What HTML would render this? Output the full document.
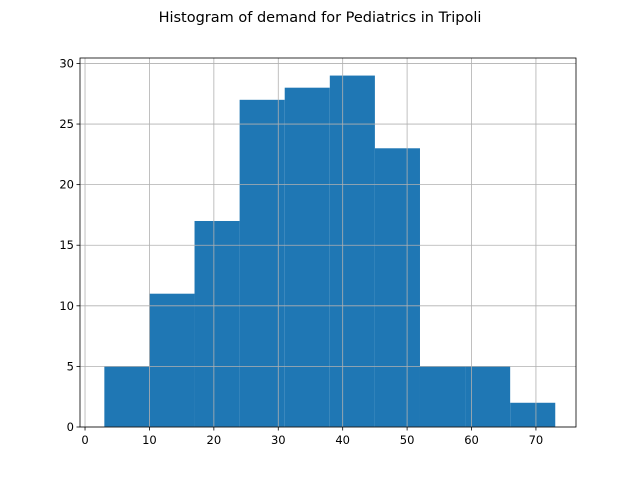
<!DOCTYPE html>
<html><head><meta charset="utf-8"><style>body{margin:0;background:#fff}svg{display:block}text{font-family:"DejaVu Sans","Liberation Sans",sans-serif}</style></head>
<body>
<svg id="c" width="640" height="480">
<text x="320" y="22" text-anchor="middle" font-size="14.5">Histogram of demand for Pediatrics in Tripoli</text>
</svg>
<script>
const binEdges=[3,10,17,24,31,38,45,52,59,66,73];
const counts=[5,11,17,27,28,29,23,5,5,2];
const xTicks=[0,10,20,30,40,50,60,70];
const yTicks=[0,5,10,15,20,25,30];
const L=80,R=576,T=58,B=427;
const xmin=-0.78,xmax=76.22,ymin=0,ymax=30.45;
const sx=v=>L+(v-xmin)/(xmax-xmin)*(R-L);
const sy=v=>B-(v-ymin)/(ymax-ymin)*(B-T);
const svg=document.getElementById('c');const NS='http://www.w3.org/2000/svg';
function mk(t,a,p){const e=document.createElementNS(NS,t);for(const k in a)e.setAttribute(k,a[k]);(p||svg).appendChild(e);return e;}
const bars=mk('g',{});


counts.forEach((c,i)=>{const x0=sx(binEdges[i]),x1=sx(binEdges[i+1]);
const r=mk('rect',{x:x0,y:sy(c),width:x1-x0,height:sy(0)-sy(c),fill:'#1f77b4'},bars);

});
const grid=mk('g',{stroke:'#b0b0b0','stroke-width':0.8});


const ax=mk('g',{});


xTicks.forEach(t=>{const x=sx(t);mk('line',{x1:x,x2:x,y1:T,y2:B},grid);
mk('line',{x1:x,x2:x,y1:B,y2:B+3.5,stroke:'#000','stroke-width':0.8},ax);
const tx=mk('text',{x:x,y:B+17,'text-anchor':'middle','font-size':11.5},ax);tx.textContent=t;

});
yTicks.forEach(t=>{const y=sy(t);mk('line',{x1:L,x2:R,y1:y,y2:y},grid);
mk('line',{x1:L-3.5,x2:L,y1:y,y2:y,stroke:'#000','stroke-width':0.8},ax);
const tx=mk('text',{x:L-6,y:y+4,'text-anchor':'end','font-size':11.5},ax);tx.textContent=t;

});
mk('rect',{x:L,y:T,width:R-L,height:B-T,fill:'none',stroke:'#000','stroke-width':0.8},ax);
</script>
</body></html>
